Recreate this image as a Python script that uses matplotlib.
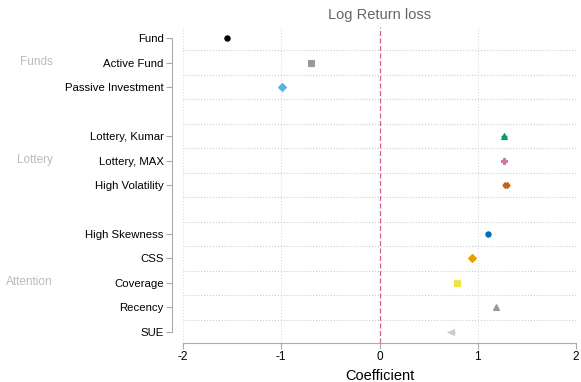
import numpy as np
from matplotlib import pyplot as plt

plt.rcParams['font.family'] = ['Liberation Sans', 'DejaVu Sans']

labels = ['Fund', 'Active Fund', 'Passive Investment', '',
          'Lottery, Kumar', 'Lottery, MAX', 'High Volatility', '',
          'High Skewness', 'CSS', 'Coverage', 'Recency', 'SUE']
coefs = [-1.55, -0.70, -0.99, None,
         1.27, 1.27, 1.29, None,
         1.10, 0.94, 0.79, 1.19, 0.73]
errors = [0.02, 0.02, 0.03, None,
          0.03, 0.02, 0.04, None,
          0.02, 0.02, 0.02, 0.02, 0.04]
markers = ['o', 's', 'D', None, '^', 'P', 'X', None, 'o', 'D', 's', '^', '<']
colors = ['#000000', '#999999', '#56B4E9', None,
          '#009E73', '#CC79A7', '#D55E00', None,
          '#0072B2', '#E69F00', '#F0E442', '#999999', '#CCCCCC']
groups = ['Funds', 'Lottery', 'Attention']
group_rows = [1, 5, 10]

fig = plt.figure(figsize=(5.81, 3.82), dpi=100)
ax = fig.add_axes([183 / 581, 1 - 343 / 382, (576 - 183) / 581, (343 - 27) / 382])

rows = np.arange(len(labels))
for i, (c, e, m, col) in enumerate(zip(coefs, errors, markers, colors)):
    if c is None:
        continue
    ax.errorbar(c, i, xerr=e, fmt=m, color=col, ms=3.8, elinewidth=1,
                markeredgewidth=0.8, capsize=0, zorder=3)

ax.axvline(0, color='#D6609A', linestyle=(0, (4, 2)), linewidth=0.9, zorder=2)
for x in [-2, -1, 1, 2]:
    ax.axvline(x, color='#DDDDDD', linestyle=':', linewidth=0.8, zorder=1)
for y in rows[:-1] + 0.5:
    ax.axhline(y, color='#CCCCCC', linestyle=':', linewidth=0.8, zorder=1)

ax.set_xlim(-2, 2)
ax.set_ylim(12.45, -0.45)
tick_rows = [i for i, l in enumerate(labels) if l]
ax.set_yticks(tick_rows)
ax.set_yticklabels([labels[i] for i in tick_rows])
ax.set_xticks([-2, -1, 0, 1, 2])
ax.set_xticklabels(['-2', '-1', '0', '1', '2'])

for s in ['top', 'right']:
    ax.spines[s].set_visible(False)
ax.spines['left'].set_position(('outward', 8))
ax.spines['left'].set_bounds(0, 12)
ax.spines['left'].set_color('#AAAAAA')
ax.spines['bottom'].set_color('#AAAAAA')
ax.tick_params(axis='y', length=4, color='#AAAAAA', pad=2, labelsize=8.2)
ax.tick_params(axis='x', length=4, color='#AAAAAA', pad=2, labelsize=8.5)

ax.set_title('Log Return loss', fontsize=10.5, color='#666666', pad=6)
ax.set_xlabel('Coefficient', fontsize=10.5, labelpad=4)

for g, r in zip(groups, group_rows):
    ax.text(53 / 581, 1 - (38 + r * 24.42) / 382, g, transform=fig.transFigure,
            ha='right', va='center', fontsize=8.5, color='#BBBBBB')

plt.savefig('out.png', dpi=100)
